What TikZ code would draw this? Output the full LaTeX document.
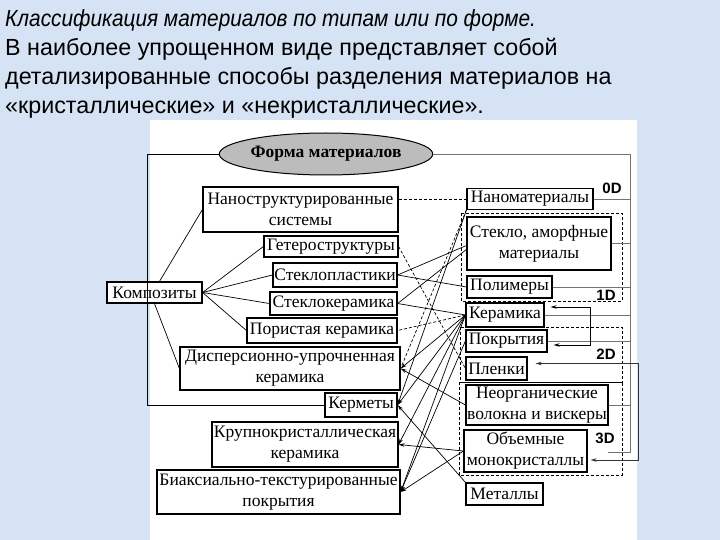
\documentclass[tikz,border=0pt]{standalone}
\usepackage{fontspec}
\setmainfont{Liberation Serif}
\newfontfamily\titlefont{Liberation Sans}
\usetikzlibrary{arrows.meta,calc,shapes.geometric}
\definecolor{slidebg}{RGB}{214,227,244}
\definecolor{formgray}{RGB}{188,188,188}
\begin{document}
\begin{tikzpicture}[x=1pt,y=-1pt,
 box/.style={draw,line width=1.2pt,fill=white,inner sep=0pt,font=\fontsize{17.5}{21}\selectfont,align=center},
 conn/.style={line width=0.7pt},
 arr/.style={conn,-{Stealth[length=6pt,width=3.5pt]}},
 darr/.style={conn,{Stealth[length=6pt,width=3.5pt]}-{Stealth[length=6pt,width=3.5pt]}},
 dconn/.style={conn,dash pattern=on 3pt off 2pt},
 tree/.style={line width=0.8pt,black!55},
 group/.style={line width=0.9pt,dash pattern=on 3pt off 2pt},
 dlabel/.style={font=\titlefont\bfseries\fontsize{15}{15}\selectfont},
 ttl/.style={font=\titlefont\fontsize{23.3}{23.3}\selectfont,anchor=base west,inner sep=0pt}
]
\useasboundingbox (0,0) rectangle (720,540);
\fill[slidebg] (0,0) rectangle (720,540);
\fill[white] (150,120) rectangle (637,540);

% title
\node[ttl] (t1) at (5,27) {\scalebox{0.894}[1]{\itshape Классификация материалов по типам или по форме.}};
\node[ttl] (t2) at (5,56) {В наиболее упрощенном виде представляет собой};
\node[ttl] (t3) at (5,85) {детализированные способы разделения материалов на};
\node[ttl] (t4) at (5,114) {«кристаллические» и «некристаллические».};

% ellipse
\node[ellipse,draw,line width=1pt,fill=formgray,minimum width=178pt,minimum height=42pt,inner sep=0pt,font=\bfseries\fontsize{17.5}{18}\selectfont] (form) at (326,154) {Форма материалов};

% left boxes
\node[box,minimum width=95pt,minimum height=21pt] (comp) at (154.5,292.5) {Композиты};
\node[box,minimum width=195pt,minimum height=45pt] (nanosys) at (300.5,209.5) {Наноструктурированные\\системы};
\node[box,minimum width=134pt,minimum height=21pt] (hetero) at (331,246.5) {Гетероструктуры};
\node[box,minimum width=124pt,minimum height=24pt] (stpl) at (335,275) {Стеклопластики};
\node[box,minimum width=127pt,minimum height=23pt] (stcer) at (333.5,303.5) {Стеклокерамика};
\node[box,minimum width=150pt,minimum height=25pt] (porous) at (322,330.5) {Пористая керамика};
\node[box,minimum width=220pt,minimum height=43pt] (disp) at (290,368.5) {Дисперсионно-упрочненная\\керамика};
\node[box,minimum width=72pt,minimum height=24pt] (cermet) at (361,405) {Керметы};
\node[box,minimum width=186pt,minimum height=45pt] (coarse) at (305,444.5) {Крупнокристаллическая\\керамика};
\node[box,minimum width=243pt,minimum height=44pt] (biax) at (278.5,492) {Биаксиально-текстурированные\\покрытия};

% right boxes
\node[box,minimum width=126pt,minimum height=21pt] (nanomat) at (530,199) {Наноматериалы};
\node[box,minimum width=144pt,minimum height=53pt] (glass) at (539,243.5) {Стекло, аморфные\\материалы};
\node[box,minimum width=85pt,minimum height=22pt] (poly) at (509.5,287) {Полимеры};
\node[box,minimum width=78pt,minimum height=24pt] (ceram) at (505,315) {Керамика};
\node[box,minimum width=81pt,minimum height=22pt] (coat) at (506.5,341) {Покрытия};
\node[box,minimum width=61pt,minimum height=23pt] (film) at (496.5,368.5) {Пленки};
\node[box,minimum width=142pt,minimum height=40pt] (inorg) at (537,405) {Неорганические\\волокна и вискеры};
\node[box,minimum width=123pt,minimum height=42pt] (bulk) at (525.5,451) {Объемные\\монокристаллы};
\node[box,minimum width=77pt,minimum height=22pt] (metal) at (504.5,494) {Металлы};

% dashed groups
\draw[group] (461,213) rectangle (622,301);
\draw[group] (460,327) rectangle (622,382);
\draw[group] (459,382) rectangle (622,475);
\node[dlabel] (l0) at (612,188) {0D};
\node[dlabel] (l1) at (606,295) {1D};
\node[dlabel] (l2) at (606,354) {2D};
\node[dlabel] (l3) at (605,438) {3D};

% grey tree on the right
\coordinate (rsp) at (630,0);
\draw[tree] (form.east) -- (form.east -| rsp) -- (rsp |- 0,452) -- (608,452);
\foreach \n in {nanomat,glass,poly,ceram,coat,inorg}
  \draw[tree] (\n.east) -- (\n.east -| rsp);

% left tree
\coordinate (lsp) at (147,0);
\draw[line width=0.9pt] (form.west) -| (lsp |- cermet.west) -- (cermet.west);

% composites
\draw[conn] ($(comp.north)+(5,0)$) -- (nanosys.west);
\draw[conn] (comp.east) -- (hetero.west);
\draw[conn] (comp.east) -- (stpl.west);
\draw[conn] (comp.east) -- (stcer.west);
\draw[conn] (comp.east) -- (porous.west);
\draw[conn] (comp.south) -- (disp.west);

% middle links
\draw[dconn] (nanosys.east |- nanomat.west) -- (nanomat.west);
\draw[conn] ($(glass.west)+(0,2)$) -- (stpl.east);
\draw[conn] ($(glass.west)+(0,6)$) -- (stcer.east);
\draw[conn] (poly.west) -- (stpl.east);
\draw[conn] (ceram.west) -- (stcer.east);
\draw[dconn] (ceram.west) -- (porous.east);
\draw[dconn] (hetero.east) -- (film.west);
\draw[dconn] (nanomat.south west) -- (disp.east);
\draw[arr] (nanomat.south west) -- (cermet.east);
\draw[arr] (ceram.west) -- (disp.east);
\draw[arr] (ceram.west) -- (cermet.east);
\draw[arr] (ceram.west) -- (coarse.east);
\draw[arr] (ceram.west) -- (biax.east);
\draw[arr] (inorg.west) -- (disp.east);
\draw[arr] (metal.north west) -- (cermet.east);
\draw[arr] (bulk.west) -- (coarse.east);
\draw[arr] (bulk.west) -- (biax.east);
\draw[arr] (coat.west) -- (biax.east);

% brackets on the right
\draw[darr] ($(ceram.east)+(6,-8)$) -- ++(40,0) |- ($(coat.east)+(6,4)$);
\draw[darr,black!80] ($(film.east)+(8,-5)$) -- ++(103,0) |- ($(bulk.east)+(3,9)$);
\end{tikzpicture}
\end{document}
